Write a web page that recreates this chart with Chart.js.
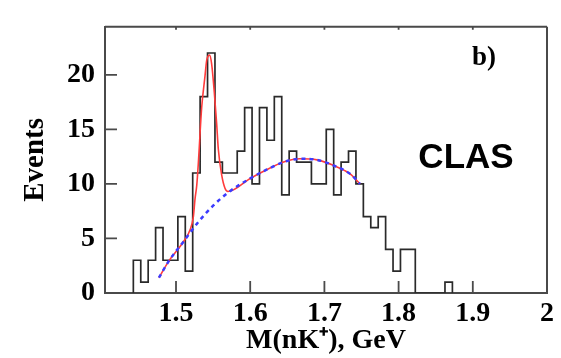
<!DOCTYPE html>
<html lang="en">
<head>
  <meta charset="UTF-8" />
  <title>M(nK+) spectrum, CLAS</title>
  <script src="https://cdn.jsdelivr.net/npm/chart.js"></script>
  <style>
    html, body { margin: 0; padding: 0; background: #fff; }
    #wrap { width: 561px; height: 358px; }
  </style>
</head>
<body>
  <div id="wrap"><canvas id="hist"></canvas></div>

  <script>
    // histogram: 0.01 GeV bins starting at firstEdge
    const firstEdge = 1.4425;
    const binWidth = 0.01;
    const counts = [3, 1, 3, 6, 3, 3, 7, 2, 11, 18, 22, 12, 11, 11, 13, 17, 10, 17, 14, 18,
                    9, 13, 12, 12, 10, 10, 15, 9, 12, 13, 10, 7, 6, 7, 4, 2, 4, 4, 0, 0,
                    0, 0, 1];

    // fit curves
    const fitX = [1.477, 1.490, 1.510, 1.519, 1.5234, 1.5256, 1.528, 1.530, 1.5346, 1.5391,
                  1.5413, 1.5452, 1.548, 1.5516, 1.5548, 1.557, 1.5616, 1.566, 1.570, 1.600,
                  1.622, 1.645, 1.667, 1.690, 1.712, 1.735, 1.748];
    const fitY = [1.4, 2.9, 4.7, 5.8, 7.0, 8.6, 9.9, 11.8, 17.0, 19.9,
                  21.3, 21.8, 21.0, 18.4, 15.5, 13.2, 10.8, 9.6, 9.3, 10.5,
                  11.3, 12.0, 12.3, 12.2, 11.7, 10.9, 10.0];

    const bgX = [1.477, 1.490, 1.510, 1.530, 1.550, 1.570, 1.600, 1.622, 1.645, 1.667,
                 1.690, 1.712, 1.735, 1.748];
    const bgY = [1.4, 2.9, 4.7, 6.5, 8.0, 9.2, 10.5, 11.3, 12.0, 12.3,
                 12.2, 11.7, 10.9, 10.0];

    const xTicks = [1.5, 1.6, 1.7, 1.8, 1.9, 2.0];
    const yTicks = [0, 5, 10, 15, 20];

    // stepped outline of the histogram
    const histPoints = [{ x: firstEdge, y: 0 }];
    counts.forEach((c, i) => histPoints.push({ x: firstEdge + i * binWidth, y: c }));
    histPoints.push({ x: firstEdge + counts.length * binWidth, y: 0 });

    const toPts = (xs, ys) => xs.map((x, i) => ({ x: x, y: ys[i] }));

    const serif = 'Liberation Serif, Times New Roman, serif';
    const axisColor = '#4a4a4a';

    // frame, inward ticks and labels
    const framePlugin = {
      id: 'frame',
      afterDraw(chart) {
        const { ctx, chartArea: a, scales: { x, y } } = chart;
        ctx.save();
        ctx.strokeStyle = axisColor;
        ctx.lineWidth = 2;
        ctx.beginPath();
        ctx.moveTo(a.left, a.top); ctx.lineTo(a.right, a.top);
        ctx.moveTo(a.right, a.top); ctx.lineTo(a.right, a.bottom);
        ctx.stroke();

        ctx.lineWidth = 1.8;
        ctx.beginPath();
        xTicks.slice(0, 5).forEach(v => {
          const px = x.getPixelForValue(v);
          ctx.moveTo(px, a.bottom); ctx.lineTo(px, a.bottom - 12);
          ctx.moveTo(px, a.top); ctx.lineTo(px, a.top + 3);
        });
        yTicks.slice(1).forEach(v => {
          const py = y.getPixelForValue(v);
          ctx.moveTo(a.left, py); ctx.lineTo(a.left + 12, py);
        });
        ctx.stroke();

        ctx.fillStyle = '#000';
        ctx.textAlign = 'center';
        ctx.textBaseline = 'middle';
        ctx.font = 'bold 27px ' + serif;
        ctx.fillText('b)', 484, 58);
        ctx.font = 'bold 35px Liberation Sans, Arial, sans-serif';
        ctx.fillText('CLAS', 466, 158);
        ctx.restore();
      }
    };

    const ctx = document.getElementById('hist').getContext('2d');
    new Chart(ctx, {
      type: 'scatter',
      data: {
        datasets: [
          {
            label: 'background',
            data: toPts(bgX, bgY),
            showLine: true,
            borderColor: '#3c3cff',
            borderWidth: 2.5,
            borderDash: [4, 4],
            pointRadius: 0,
            cubicInterpolationMode: 'monotone'
          },
          {
            label: 'fit',
            data: toPts(fitX, fitY),
            showLine: true,
            borderColor: '#ff3b3b',
            borderWidth: 1.6,
            pointRadius: 0,
            cubicInterpolationMode: 'monotone'
          },
          {
            label: 'data',
            data: histPoints,
            showLine: true,
            stepped: 'before',
            borderColor: '#2a2a2a',
            borderWidth: 1.7,
            pointRadius: 0
          }
        ]
      },
      options: {
        responsive: true,
        maintainAspectRatio: false,
        animation: false,
        layout: { padding: { top: 11, right: 14, left: 0, bottom: 0 } },
        plugins: {
          legend: { display: false },
          tooltip: { enabled: false }
        },
        scales: {
          x: {
            type: 'linear',
            min: 1.4043,
            max: 2.0,
            afterBuildTicks: s => { s.ticks = xTicks.map(v => ({ value: v })); },
            afterFit: s => { s.height = 65; },
            grid: { display: false, drawTicks: false },
            border: { display: true, color: axisColor, width: 2 },
            ticks: {
              padding: 4,
              color: '#000',
              font: { family: serif, size: 28, weight: 'bold' },
              callback: v => (v === 2 ? '2' : v.toFixed(1))
            },
            title: {
              display: true,
              text: 'M(nK\u207A), GeV',
              color: '#000',
              font: { family: serif, size: 28, weight: 'bold' },
              padding: { top: 0, bottom: 0 }
            }
          },
          y: {
            min: 0,
            max: 24.4,
            afterBuildTicks: s => { s.ticks = yTicks.map(v => ({ value: v })); },
            afterFit: s => { s.width = 105; },
            grid: { display: false, drawTicks: false },
            border: { display: true, color: axisColor, width: 2 },
            ticks: {
              padding: 10,
              color: '#000',
              font: { family: serif, size: 28, weight: 'bold' }
            },
            title: {
              display: true,
              text: 'Events',
              color: '#000',
              font: { family: serif, size: 29, weight: 'bold' },
              padding: { top: 18, bottom: 0 }
            }
          }
        }
      },
      plugins: [framePlugin]
    });
  </script>
</body>
</html>
